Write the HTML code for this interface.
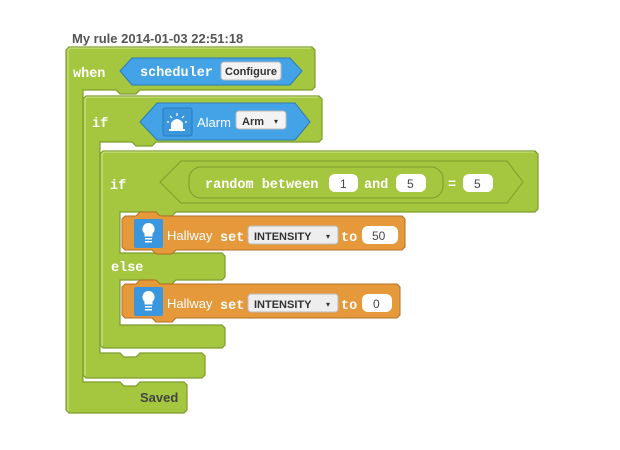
<!DOCTYPE html>
<html><head><meta charset="utf-8"><style>
body{margin:0;background:#fff;width:620px;height:450px;overflow:hidden}
svg{display:block}
.m{font-family:"Liberation Mono",monospace;font-weight:bold;font-size:13.5px;fill:#fff}
.s{font-family:"Liberation Sans",sans-serif;font-size:12px;fill:#fff}
.d{font-family:"Liberation Sans",sans-serif;font-size:11px;font-weight:bold;fill:#333}
.v{font-family:"Liberation Sans",sans-serif;font-size:12px;fill:#444}
</style></head><body>
<svg width="620" height="450" viewBox="0 0 620 450">
<text x="72" y="43" style="font-family:'Liberation Sans',sans-serif;font-weight:bold;font-size:13px;fill:#555">My rule 2014-01-03 22:51:18</text>
<g fill="#a5c63f" stroke="#7d9c2c" stroke-width="1.2">
<path d="M69,47 H312 L315,50 V87 L312,90 H140 L136,94 H120 L116,90 H83 V382 H120 L124,386 H136 L140,382 H184 L187,385 V410 L184,413 H69 L66,410 V50 Z"/>
<path d="M86,96 H319 L322,99 V139 L319,142 H156 L152,146 H136 L132,142 H100 V353 H120 L124,357 H136 L140,353 H202 L205,356 V375 L202,378 H86 L83,375 V99 Z"/>
<path d="M103,151 H535 L538,154 V209 L535,212 H176 L172,216 H156 L152,212 H120 V253 H222 L225,256 V277 L222,280 H176 L172,284 H156 L152,280 H120 V325 H222 L225,328 V345 L222,348 H103 L100,345 V154 Z"/>
</g>
<g fill="none" stroke="#cfe68d" stroke-width="1">
<path d="M68,411 V50 L70,48 H311"/><path d="M85,376 V99 L87,97 H318"/><path d="M102,346 V154 L104,152 H534"/>
</g>
<text class="m" x="73" y="77">when</text>
<text class="m" x="92" y="127">if</text>
<text class="m" x="110" y="189">if</text>
<text class="m" x="111" y="271">else</text>
<text x="140" y="402" style="font-family:'Liberation Sans',sans-serif;font-weight:bold;font-size:13px;fill:#444">Saved</text>
<!-- scheduler -->
<path d="M132,58 H290 L302,71 L290,85 H132 L120,71 Z" fill="#44a3e6" stroke="#2a7bb8"/>
<text class="m" x="140" y="76">scheduler</text>
<rect x="221" y="62" width="60" height="18" rx="3" fill="#f3f3f3" stroke="#bbb"/>
<text class="d" x="225" y="75">Configure</text>
<!-- alarm -->
<path d="M157,103 H295 L310,122 L295,140 H157 L140,122 Z" fill="#44a3e6" stroke="#2a7bb8"/>
<rect x="163" y="108" width="29" height="28" rx="2" fill="#3a97dd" stroke="#2a7bb8"/>
<path d="M171,129 V123 Q177,115 183,123 V129 Z" fill="#fff"/><rect x="169" y="129" width="16" height="2" fill="#fff"/>
<g stroke="#fff" stroke-width="1.2"><path d="M177,113 V116 M170,116 L172,118 M184,116 L182,118 M167,122 H169 M185,122 H187"/></g>
<text class="s" x="197" y="127" style="font-size:13px">Alarm</text>
<rect x="236" y="111" width="50" height="18" rx="3" fill="#f3f3f3" stroke="#bbb"/>
<text class="d" x="242" y="125">Arm</text>
<text x="274" y="124" style="font-size:8px;fill:#333">▾</text>
<!-- compare -->
<path d="M181,161 H507 L523,182 L507,203 H181 L160,182 Z" fill="#a5c63f" stroke="#7d9c2c"/>
<rect x="189" y="167" width="254" height="31" rx="12" fill="#a5c63f" stroke="#7d9c2c"/>
<text class="m" x="205" y="188">random between</text>
<rect x="329" y="174" width="29" height="18" rx="6" fill="#fff"/><text class="v" x="340" y="188">1</text>
<text class="m" x="364" y="188">and</text>
<rect x="396" y="174" width="30" height="18" rx="6" fill="#fff"/><text class="v" x="407" y="188">5</text>
<text class="m" x="448" y="188">=</text>
<rect x="463" y="174" width="30" height="18" rx="6" fill="#fff"/><text class="v" x="474" y="188">5</text>
<!-- orange blocks -->
<g fill="#e5993a" stroke="#b46f22">
<path d="M125,216 H136 L140,212 H156 L160,216 H402 L405,219 V247 L402,250 H176 L172,254 H156 L152,250 H125 L122,247 V219 Z"/>
<path d="M125,284 H136 L140,280 H156 L160,284 H397 L400,287 V315 L397,318 H176 L172,322 H156 L152,318 H125 L122,315 V287 Z"/>
</g>
<g>
<rect x="134" y="219" width="29" height="29" rx="2" fill="#3a97dd"/>
<path d="M148.5,223 a6,6 0 0 1 4,10.5 v3 h-8 v-3 a6,6 0 0 1 4,-10.5 Z" fill="#fff"/>
<rect x="145" y="238" width="7" height="1.5" fill="#fff"/><rect x="145" y="241" width="7" height="1.5" fill="#fff"/>
<text class="s" x="167" y="240" style="font-size:13px">Hallway</text>
<text class="m" x="220" y="241">set</text>
<rect x="248" y="226" width="90" height="18" rx="3" fill="#eee" stroke="#bbb"/>
<text class="d" x="254" y="240">INTENSITY</text><text x="326" y="239" style="font-size:8px;fill:#333">▾</text>
<text class="m" x="341" y="241">to</text>
<rect x="362" y="226" width="36" height="18" rx="6" fill="#fff"/><text class="v" x="372" y="240">50</text>

<rect x="134" y="287" width="29" height="29" rx="2" fill="#3a97dd"/>
<path d="M148.5,291 a6,6 0 0 1 4,10.5 v3 h-8 v-3 a6,6 0 0 1 4,-10.5 Z" fill="#fff"/>
<rect x="145" y="306" width="7" height="1.5" fill="#fff"/><rect x="145" y="309" width="7" height="1.5" fill="#fff"/>
<text class="s" x="167" y="308" style="font-size:13px">Hallway</text>
<text class="m" x="220" y="309">set</text>
<rect x="248" y="294" width="90" height="18" rx="3" fill="#eee" stroke="#bbb"/>
<text class="d" x="254" y="308">INTENSITY</text><text x="326" y="307" style="font-size:8px;fill:#333">▾</text>
<text class="m" x="341" y="309">to</text>
<rect x="362" y="294" width="30" height="18" rx="6" fill="#fff"/><text class="v" x="373" y="308">0</text>
</g>
</svg>
</body></html>
